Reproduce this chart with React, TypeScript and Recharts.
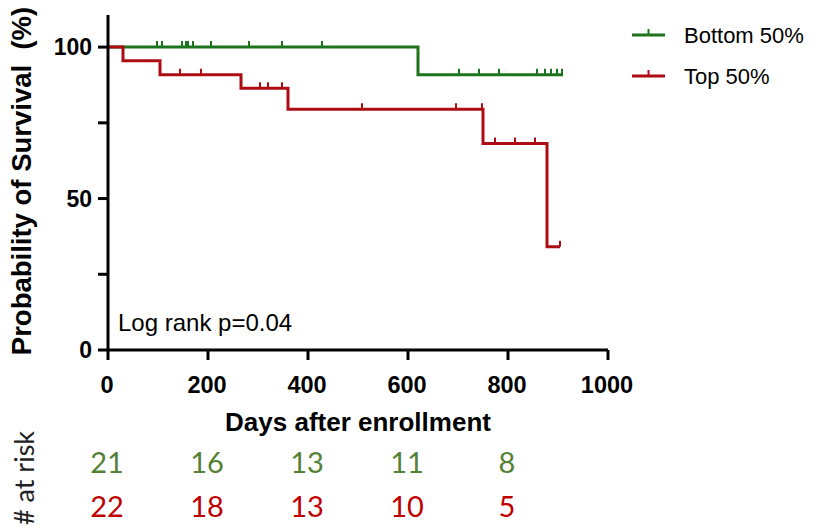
import React from 'react';
import { ComposedChart, Line, Scatter, XAxis, YAxis, Legend } from 'recharts';

const bottomCurve = [
  { x: 0, y: 100 },
  { x: 620, y: 90.9 },
  { x: 910, y: 90.9 },
];
const topCurve = [
  { x: 0, y: 100 },
  { x: 30, y: 95.5 },
  { x: 104, y: 90.9 },
  { x: 266, y: 86.4 },
  { x: 360, y: 79.5 },
  { x: 750, y: 68.2 },
  { x: 878, y: 34.1 },
  { x: 904, y: 34.1 },
];
const bottomCensored = [
  { x: 98, y: 100 }, { x: 108, y: 100 }, { x: 148, y: 100 }, { x: 156, y: 100 },
  { x: 160, y: 100 }, { x: 170, y: 100 }, { x: 206, y: 100 }, { x: 282, y: 100 },
  { x: 348, y: 100 }, { x: 428, y: 100 },
  { x: 702, y: 90.9 }, { x: 742, y: 90.9 }, { x: 782, y: 90.9 }, { x: 858, y: 90.9 },
  { x: 874, y: 90.9 }, { x: 886, y: 90.9 }, { x: 898, y: 90.9 }, { x: 908, y: 90.9 },
];
const topCensored = [
  { x: 144, y: 90.9 }, { x: 186, y: 90.9 },
  { x: 304, y: 86.4 }, { x: 320, y: 86.4 }, { x: 348, y: 86.4 },
  { x: 508, y: 79.5 }, { x: 696, y: 79.5 }, { x: 748, y: 79.5 },
  { x: 774, y: 68.2 }, { x: 814, y: 68.2 }, { x: 854, y: 68.2 },
  { x: 904, y: 34.1 },
];
const xTicks = [0, 200, 400, 600, 800, 1000];
const yTicks = [0, 25, 50, 75, 100];
const yLabelled = [0, 50, 100];
const bottomAtRisk = [21, 16, 13, 11, 8];
const topAtRisk = [22, 18, 13, 10, 5];

const GREEN = '#1b731b';
const RED = '#ad0d12';
const GREEN_TXT = '#548235';
const RED_TXT = '#c00000';
const ARIAL = '"Liberation Sans", Arial, sans-serif';
const CALIBRI = 'Lato, "Noto Sans", sans-serif';

const censorShape = (color: string) => (props: any) => {
  const { cx, cy } = props;
  return <line x1={cx} y1={cy} x2={cx} y2={cy - 6} stroke={color} strokeWidth={2} />;
};

const XTick = (props: any) => {
  const { x, y, payload, index } = props;
  return (
    <g>
      <text x={x - 1} y={y + 18} textAnchor="middle" fontFamily={ARIAL} fontWeight="bold" fontSize={23.5} fill="#000">
        {payload.value}
      </text>
      {index < bottomAtRisk.length && (
        <text x={x - 1} y={y + 98} textAnchor="middle" fontFamily={CALIBRI} fontSize={29} fill={GREEN_TXT}>
          {bottomAtRisk[index]}
        </text>
      )}
      {index < topAtRisk.length && (
        <text x={x - 1} y={y + 142} textAnchor="middle" fontFamily={CALIBRI} fontSize={29} fill={RED_TXT}>
          {topAtRisk[index]}
        </text>
      )}
    </g>
  );
};

const LegendContent = () => {
  const items = [
    { name: 'Bottom 50%', color: GREEN, y: 17 },
    { name: 'Top 50%', color: RED, y: 58 },
  ];
  return (
    <svg width={195} height={80}>
      {items.map((it) => (
        <g key={it.name}>
          <line x1={4} y1={it.y} x2={37} y2={it.y} stroke={it.color} strokeWidth={3} />
          <line x1={20.5} y1={it.y} x2={20.5} y2={it.y - 6} stroke={it.color} strokeWidth={2} />
          <text x={56} y={it.y + 8} fontFamily={ARIAL} fontSize={22} fill="#000">
            {it.name}
          </text>
        </g>
      ))}
    </svg>
  );
};

export default function App() {
  return (
    <div style={{ position: 'absolute', left: 0, top: 0, width: 823, height: 526, background: '#fff', overflow: 'hidden' }}>
      <ComposedChart width={823} height={526} margin={{ top: 15, right: 215, bottom: 0, left: 0 }}>
        <XAxis
          dataKey="x"
          type="number"
          domain={[0, 1000]}
          ticks={xTicks}
          interval={0}
          allowDataOverflow
          tickSize={10}
          tickMargin={15}
          height={176}
          axisLine={{ stroke: '#000', strokeWidth: 3 }}
          tickLine={{ stroke: '#000', strokeWidth: 3 }}
          tick={<XTick />}
        />
        <YAxis
          dataKey="y"
          type="number"
          domain={[0, 110.6]}
          ticks={yTicks}
          interval={0}
          allowDataOverflow
          width={108}
          tickSize={10}
          tickMargin={6}
          axisLine={{ stroke: '#000', strokeWidth: 3 }}
          tickLine={{ stroke: '#000', strokeWidth: 3 }}
          tickFormatter={(v: number) => (yLabelled.includes(v) ? String(v) : '')}
          tick={{ fontFamily: ARIAL, fontWeight: 'bold', fontSize: 23, fill: '#000' }}
        />
        <Legend
          layout="vertical"
          align="center"
          verticalAlign="middle"
          content={<LegendContent />}
          wrapperStyle={{ position: 'absolute', left: 628, top: 18, width: 195, height: 80 }}
        />
        <Line data={bottomCurve} dataKey="y" type="stepAfter" stroke={GREEN} strokeWidth={3} dot={false} isAnimationActive={false} name="Bottom 50%" />
        <Line data={topCurve} dataKey="y" type="stepAfter" stroke={RED} strokeWidth={3} dot={false} isAnimationActive={false} name="Top 50%" />
        <Scatter data={bottomCensored} dataKey="y" shape={censorShape(GREEN)} isAnimationActive={false} legendType="none" />
        <Scatter data={topCensored} dataKey="y" shape={censorShape(RED)} isAnimationActive={false} legendType="none" />
      </ComposedChart>
      <div style={{ position: 'absolute', left: 118, top: 308, fontFamily: ARIAL, fontSize: 24, lineHeight: '30px', color: '#000', whiteSpace: 'nowrap' }}>
        Log rank p=0.04
      </div>
      <div style={{ position: 'absolute', left: 358, top: 404, transform: 'translateX(-50%)', fontFamily: ARIAL, fontWeight: 'bold', fontSize: 26, lineHeight: '36px', color: '#000', whiteSpace: 'nowrap' }}>
        Days after enrollment
      </div>
      <div style={{ position: 'absolute', left: 22, top: 181, transform: 'translate(-50%, -50%) rotate(-90deg)', fontFamily: ARIAL, fontWeight: 'bold', fontSize: 27.5, lineHeight: '32px', color: '#000', whiteSpace: 'pre' }}>
        {'Probability of Survival  (%)'}
      </div>
      <div style={{ position: 'absolute', left: 24, top: 478, transform: 'translate(-50%, -50%) rotate(-90deg)', fontFamily: CALIBRI, fontSize: 27, lineHeight: '32px', color: '#222', whiteSpace: 'nowrap' }}>
        # at risk
      </div>
    </div>
  );
}
